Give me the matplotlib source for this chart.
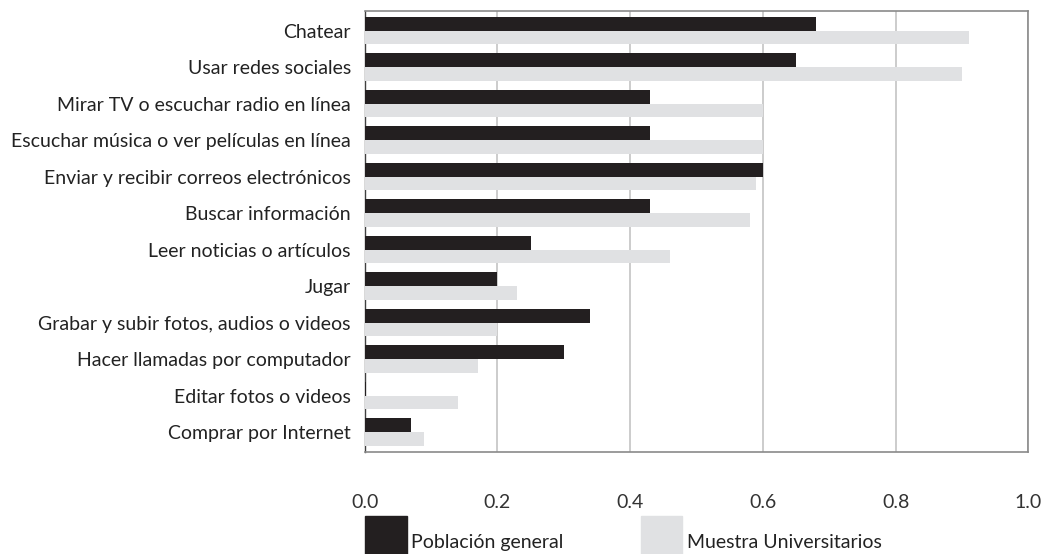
import numpy as np
import matplotlib
matplotlib.use('Agg')
import matplotlib.pyplot as plt
from matplotlib.patches import Rectangle

plt.rcParams['font.family'] = ['Lato', 'DejaVu Sans']

# ── datos ──
categorias = [
    'Chatear',
    'Usar redes sociales',
    'Mirar TV o escuchar radio en línea',
    'Escuchar música o ver películas en línea',
    'Enviar y recibir correos electrónicos',
    'Buscar información',
    'Leer noticias o artículos',
    'Jugar',
    'Grabar y subir fotos, audios o videos',
    'Hacer llamadas por computador',
    'Editar fotos o videos',
    'Comprar por Internet',
]
poblacion_general = [0.68, 0.65, 0.43, 0.43, 0.60, 0.43, 0.25, 0.20, 0.34, 0.30, 0.002, 0.07]
muestra_univ = [0.91, 0.90, 0.60, 0.60, 0.59, 0.58, 0.46, 0.23, 0.20, 0.17, 0.14, 0.09]
xticks = [0.0, 0.2, 0.4, 0.6, 0.8, 1.0]
series_labels = ['Población general', 'Muestra Universitarios']

# ── colores ──
NEGRO = '#231f20'
GRIS = '#e0e1e3'
FS = 14

fig = plt.figure(figsize=(10.45, 5.54), dpi=100)
ax = fig.add_axes([0.349, 0.184, 0.635, 0.797])

y = np.arange(len(categorias))
h = 0.38
ax.barh(y - h / 2, poblacion_general, height=h, color=NEGRO, zorder=3)
ax.barh(y + h / 2, muestra_univ, height=h, color=GRIS, zorder=3)

ax.set_xlim(0, 1.0)
ax.set_ylim(len(categorias) - 0.45, -0.55)
ax.set_xticks(xticks)
ax.set_xticklabels([f'{v:.1f}' for v in xticks], fontsize=FS, color='#333333')
ax.set_yticks(y)
ax.set_yticklabels(categorias, fontsize=FS, color='#222222')
ax.tick_params(axis='x', length=0, pad=30)
ax.tick_params(axis='y', length=0, pad=10)

ax.grid(axis='x', color='#cccccc', linewidth=1.4, zorder=0)
for s in ['top', 'right', 'bottom']:
    ax.spines[s].set_color('#8a8a8a')
    ax.spines[s].set_linewidth(1.2)
ax.spines['left'].set_color('#404040')
ax.spines['left'].set_linewidth(1.0)

# ── leyenda ──
for x0, col, lab in [(0.349, NEGRO, series_labels[0]), (0.613, GRIS, series_labels[1])]:
    fig.add_artist(Rectangle((x0, 0.0), 0.040, 0.068, transform=fig.transFigure,
                             color=col, clip_on=False))
    fig.text(x0 + 0.044, 0.005, lab, fontsize=FS, color='#222222',
             ha='left', va='bottom')

fig.savefig('out.png', dpi=100)
